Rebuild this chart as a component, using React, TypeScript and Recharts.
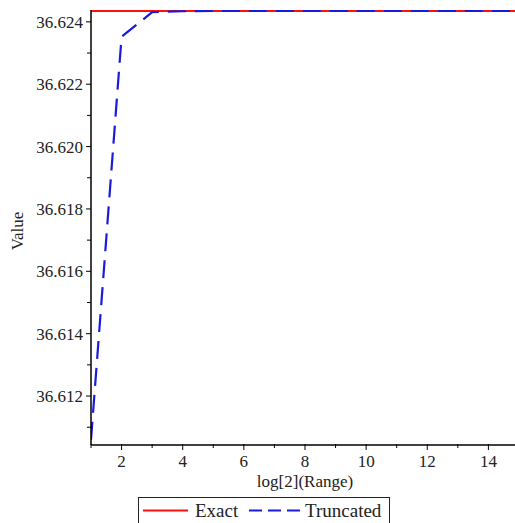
import { Line, LineChart, XAxis, YAxis } from "recharts";

// log2 of the range, and the two curves
const rangeLog = [1, 2, 3, 4, 5, 6, 7, 8, 9, 10, 11, 12, 13, 14, 15];
const exact = [
  36.62435, 36.62435, 36.62435, 36.62435, 36.62435, 36.62435, 36.62435, 36.62435,
  36.62435, 36.62435, 36.62435, 36.62435, 36.62435, 36.62435, 36.62435,
];
const truncated = [
  36.6106, 36.62352, 36.62431, 36.62434, 36.62435, 36.62435, 36.62435, 36.62435,
  36.62435, 36.62435, 36.62435, 36.62435, 36.62435, 36.62435, 36.62435,
];
const xTicks = [1, 2, 3, 4, 5, 6, 7, 8, 9, 10, 11, 12, 13, 14];
const yTicks = [
  36.611, 36.612, 36.613, 36.614, 36.615, 36.616, 36.617, 36.618, 36.619, 36.62,
  36.621, 36.622, 36.623, 36.624,
];

const data = rangeLog.map((x, i) => ({ x, exact: exact[i], truncated: truncated[i] }));

const FONT = "Liberation Serif";
const INK = "#222";

function XTick({ x, y, payload }: any) {
  const major = payload.value % 2 === 0;
  return (
    <g>
      <line x1={x} x2={x} y1={y - 1} y2={y + (major ? 5 : 3)} stroke="#000" strokeWidth={1} />
      {major && (
        <text x={x} y={y + 22} textAnchor="middle" fontFamily={FONT} fontSize={17} fill={INK}>
          {payload.value}
        </text>
      )}
    </g>
  );
}

function YTick({ x, y, payload }: any) {
  const major = Math.round(payload.value * 1000) % 2 === 0;
  return (
    <g>
      <line x1={x - (major ? 5 : 4)} x2={x} y1={y} y2={y} stroke="#000" strokeWidth={1} />
      {major && (
        <text x={x - 8} y={y + 6} textAnchor="end" fontFamily={FONT} fontSize={17} fill={INK}>
          {payload.value.toFixed(3)}
        </text>
      )}
    </g>
  );
}

export default function App() {
  return (
    <div style={{ position: "fixed", left: 0, top: 0, width: 515, height: 523, background: "#fff", overflow: "hidden" }}>
      <LineChart width={515} height={523} data={data} margin={{ top: 10, right: 0, left: 0, bottom: 0 }}>
        <XAxis
          dataKey="x"
          type="number"
          domain={[1, 14.87]}
          allowDataOverflow
          ticks={xTicks}
          tick={<XTick />}
          tickLine={false}
          tickSize={0}
          tickMargin={0}
          height={78}
          axisLine={{ stroke: "#000", strokeWidth: 1.5 }}
          label={{
            content: () => (
              <text x={305} y={487} textAnchor="middle" fontFamily={FONT} fontSize={17} fill={INK}>
                log[2](Range)
              </text>
            ),
          }}
        />
        <YAxis
          type="number"
          domain={[36.61043, 36.62438]}
          allowDataOverflow
          ticks={yTicks}
          tick={<YTick />}
          tickLine={false}
          tickSize={0}
          tickMargin={0}
          width={91}
          axisLine={{ stroke: "#000", strokeWidth: 1.5 }}
          label={{
            content: () => (
              <text
                x={23}
                y={231}
                transform="rotate(-90 23 231)"
                textAnchor="middle"
                fontFamily={FONT}
                fontSize={17}
                fill={INK}
              >
                Value
              </text>
            ),
          }}
        />
        <Line
          dataKey="exact"
          stroke="#ff1010"
          strokeWidth={2}
          dot={false}
          isAnimationActive={false}
        />
        <Line
          dataKey="truncated"
          stroke="#1a1adf"
          strokeWidth={2.2}
          strokeDasharray="18 9"
          dot={false}
          isAnimationActive={false}
        />
      </LineChart>
      <svg width={252} height={27} style={{ position: "absolute", left: 138, top: 497 }}>
        <rect x={0.5} y={0.5} width={251} height={30} fill="none" stroke={INK} strokeWidth={1} />
        <line x1={5} x2={50} y1={13.5} y2={13.5} stroke="#ff1010" strokeWidth={2} />
        <text x={57} y={20} fontFamily={FONT} fontSize={19} fill={INK}>
          Exact
        </text>
        <line x1={111} x2={162} y1={13.5} y2={13.5} stroke="#1a1adf" strokeWidth={2} strokeDasharray="13 6" />
        <text x={167} y={20} fontFamily={FONT} fontSize={19} fill={INK}>
          Truncated
        </text>
      </svg>
    </div>
  );
}
